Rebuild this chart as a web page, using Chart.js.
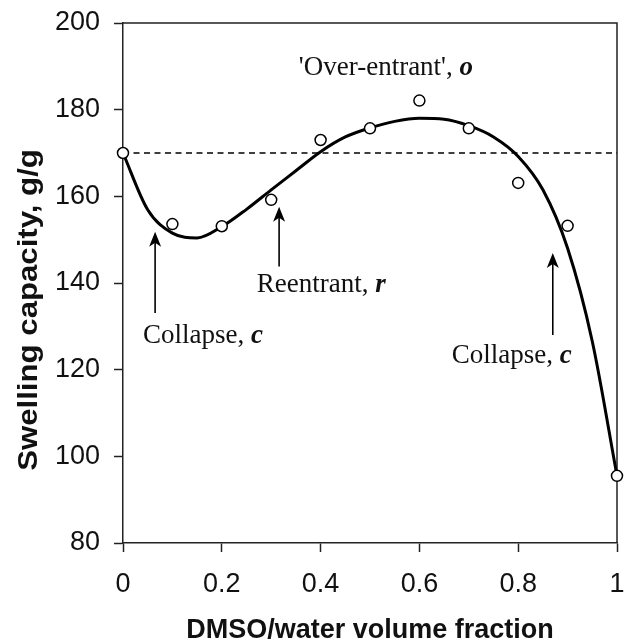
<!DOCTYPE html>
<html><head><meta charset="utf-8">
<script src="https://cdn.jsdelivr.net/npm/chart.js@4"></script>
<style>html,body{margin:0;padding:0;background:#fff;} canvas{display:block;}</style>
</head><body>
<canvas id="c" width="625" height="642"></canvas>
<script>
// ---- data ----
const fractions = [0, 0.1, 0.2, 0.3, 0.4, 0.5, 0.6, 0.7, 0.8, 0.9, 1];
const swelling  = [170, 153.6, 153.1, 159.2, 173, 175.7, 182.1, 175.7, 163.1, 153.2, 95.5];

const fitX = [0, 0.05, 0.1, 0.15, 0.2, 0.25, 0.3, 0.35, 0.4, 0.45, 0.5, 0.55, 0.6, 0.65, 0.7, 0.75, 0.8, 0.85, 0.9, 0.95, 1];
const fitY = [170, 156.9, 151.5, 150.4, 153, 157, 161.5, 165.9, 170.3, 173.7, 175.8, 177.3, 178, 177.8, 176.3, 173.7, 169.2, 161.5, 148, 126.5, 95.5];

const referenceLevel = 170;

const xTickValues = [0, 0.2, 0.4, 0.6, 0.8, 1];
const xTickLabels = ['0', '0.2', '0.4', '0.6', '0.8', '1'];
const yTickValues = [80, 100, 120, 140, 160, 180, 200];
const yTickLabels = ['80', '100', '120', '140', '160', '180', '200'];

const xTitle = 'DMSO/water volume fraction';
const yTitle = 'Swelling capacity, g/g';

// annotation texts (data coordinates of text start/baseline, and arrows)
const noteTexts = ['Collapse, ', 'Reentrant, ', "'Over-entrant', ", 'Collapse, '];
const noteEmph  = ['c', 'r', 'o', 'c'];
const noteX     = [0.0405, 0.2706, 0.356, 0.6654];
const noteY     = [126.15, 138.0, 188.0, 121.5];
const arrowX    = [0.065, 0.316, null, 0.87];
const arrowTip  = [151.8, 157.6, null, 146.9];
const arrowTail = [133.1, 143.8, null, 128.0];

const AXIS = '#222';
const INK = '#111';
const SANS = '"Liberation Sans", Arial, sans-serif';
const SERIF = '"Liberation Serif", "Times New Roman", serif';

const decor = {
  id: 'decor',
  beforeDatasetsDraw(chart) {
    const {ctx, chartArea: a} = chart;
    ctx.save();
    ctx.strokeStyle = AXIS;
    ctx.lineWidth = 1.5;
    ctx.beginPath();
    ctx.moveTo(a.left, a.top);
    ctx.lineTo(a.right, a.top);
    ctx.lineTo(a.right, a.bottom);
    ctx.stroke();
    ctx.restore();
  },
  afterDraw(chart) {
    const {ctx} = chart;
    const xs = chart.scales.x, ys = chart.scales.y;
    ctx.save();
    // arrows
    ctx.strokeStyle = '#000';
    ctx.fillStyle = '#000';
    for (let i = 0; i < noteTexts.length; i++) {
      if (arrowX[i] === null) continue;
      const x = xs.getPixelForValue(arrowX[i]);
      const t = ys.getPixelForValue(arrowTip[i]);
      const b = ys.getPixelForValue(arrowTail[i]);
      ctx.lineWidth = 1.6;
      ctx.beginPath();
      ctx.moveTo(x, t + 8);
      ctx.lineTo(x, b);
      ctx.stroke();
      ctx.beginPath();
      ctx.moveTo(x, t);
      ctx.lineTo(x - 6, t + 15);
      ctx.lineTo(x, t + 11);
      ctx.lineTo(x + 6, t + 15);
      ctx.closePath();
      ctx.fill();
    }
    // labels
    ctx.fillStyle = INK;
    ctx.textBaseline = 'alphabetic';
    ctx.textAlign = 'left';
    for (let i = 0; i < noteTexts.length; i++) {
      const x = xs.getPixelForValue(noteX[i]);
      const y = ys.getPixelForValue(noteY[i]);
      ctx.font = '27px ' + SERIF;
      ctx.fillText(noteTexts[i], x, y);
      const w = ctx.measureText(noteTexts[i]).width;
      ctx.font = 'italic bold 27px ' + SERIF;
      ctx.fillText(noteEmph[i], x + w, y);
    }
    // y axis title (stretched along its length like the reference)
    ctx.font = 'bold 27px ' + SANS;
    ctx.textAlign = 'center';
    ctx.textBaseline = 'alphabetic';
    ctx.translate(36.5, 310);
    ctx.rotate(-Math.PI / 2);
    ctx.scale(1.155, 1);
    ctx.fillText(yTitle, 0, 0);
    ctx.restore();
  }
};

new Chart(document.getElementById('c'), {
  type: 'scatter',
  data: {
    datasets: [
      {
        label: 'measured',
        data: fractions.map((v, i) => ({x: v, y: swelling[i]})),
        pointRadius: 5.5,
        pointHoverRadius: 5.5,
        pointBackgroundColor: '#fff',
        pointBorderColor: '#000',
        pointBorderWidth: 1.5,
        showLine: false,
        clip: false,
        order: 0
      },
      {
        label: 'fit',
        data: fitX.map((v, i) => ({x: v, y: fitY[i]})),
        showLine: true,
        borderColor: '#000',
        borderWidth: 3,
        pointRadius: 0,
        cubicInterpolationMode: 'monotone',
        fill: false,
        clip: false,
        order: 1
      },
      {
        label: 'reference',
        data: [{x: 0, y: referenceLevel}, {x: 1, y: referenceLevel}],
        showLine: true,
        borderColor: '#000',
        borderWidth: 1.5,
        borderDash: [6, 4.5],
        pointRadius: 0,
        fill: false,
        order: 2
      }
    ]
  },
  options: {
    responsive: false,
    animation: false,
    devicePixelRatio: 1,
    layout: {padding: {top: 23, right: 8, left: 0, bottom: 0}},
    plugins: {legend: {display: false}, tooltip: {enabled: false}},
    scales: {
      x: {
        type: 'linear', min: 0, max: 1,
        afterBuildTicks: s => { s.ticks = xTickValues.map(v => ({value: v})); },
        afterFit: s => { s.height = 99; s.paddingLeft = 0; s.paddingRight = 0; },
        ticks: {
          callback: (v, i) => xTickLabels[i],
          font: {family: SANS, size: 27},
          color: INK, padding: 16, maxRotation: 0, autoSkip: false
        },
        grid: {drawOnChartArea: false, drawTicks: true, tickLength: 9, tickColor: AXIS, tickWidth: 1.5},
        border: {display: true, color: AXIS, width: 1.5},
        title: {
          display: true, text: xTitle, color: INK,
          font: {family: SANS, size: 27, weight: 'bold', lineHeight: 1},
          padding: {top: 0, bottom: -2}
        }
      },
      y: {
        type: 'linear', min: 80, max: 200,
        afterBuildTicks: s => { s.ticks = yTickValues.map(v => ({value: v})); },
        afterFit: s => { s.width = 123; s.paddingTop = 0; s.paddingBottom = 0; },
        ticks: {
          callback: (v, i) => yTickLabels[i],
          font: {family: SANS, size: 27},
          color: INK, padding: 14
        },
        grid: {drawOnChartArea: false, drawTicks: true, tickLength: 9, tickColor: AXIS, tickWidth: 1.5},
        border: {display: true, color: AXIS, width: 1.5},
        title: {display: false}
      }
    }
  },
  plugins: [decor]
});
</script>
</body></html>
